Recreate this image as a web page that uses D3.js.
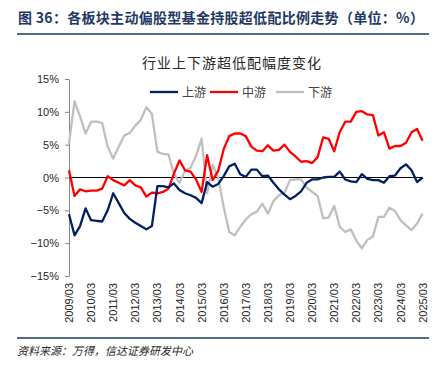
<!DOCTYPE html>
<html>
<head>
<meta charset="utf-8">
<script src="https://cdn.jsdelivr.net/npm/d3@7"></script>
<style>
    body { margin: 0; background: #fff; }
</style>
</head>
<body>
<div id="container"></div>
<script>
const WIDTH = 447;
const HEIGHT = 375;

const PLOT_LEFT = 69;
const PLOT_RIGHT = 422.6;
const PLOT_TOP = 79;
const PLOT_BOTTOM = 276;

// quarter-end dates, 2009/03 .. 2025/03
var quarters = [];
for (var yr = 2009; yr <= 2025; yr++) {
    ["03", "06", "09", "12"].forEach(function (m) {
        if (yr < 2025 || m === "03") quarters.push(yr + "/" + m);
    });
}

var yTicks = [-15, -10, -5, 0, 5, 10, 15];
var seriesNames = ["上游", "中游", "下游"];

var upstream = [-5.6, -8.8, -7.4, -4.7, -6.5, -6.6, -6.7, -5.0, -2.4, -3.9, -5.4, -6.3, -6.9, -7.4, -7.9, -7.4,
    -1.3, -1.3, -1.5, -0.9, -1.9, -2.4, -2.7, -3.1, -3.9, -0.7, -1.4, -1.0, 0.2, 1.7, 2.1, 0.5,
    0.1, 1.2, 1.2, 0.2, 0.3, -0.8, -1.8, -2.6, -3.3, -2.8, -2.1, -0.8, -0.3, -0.3, 0.0, 0.1,
    0.1, 0.9, -0.3, -0.6, -0.7, 0.5, -0.2, -0.4, -0.4, -0.8, 0.2, 0.3, 1.4, 2.0, 1.1, -0.7, 0.0];

var midstream = [1.1, -2.8, -1.8, -2.1, -2.0, -2.0, -1.7, 0.2, -0.4, -0.8, -1.2, -0.4, -1.2, -1.5, -2.9, -2.3,
    -2.4, -2.2, -1.7, 0.6, 2.6, 1.1, 0.9, -0.3, -2.2, 3.4, -0.4, 1.0, 4.3, 6.3, 6.7, 6.7,
    6.3, 4.7, 4.1, 4.0, 4.9, 4.1, 4.2, 5.0, 3.9, 3.2, 2.4, 2.5, 2.2, 3.1, 6.1, 5.9,
    4.0, 6.9, 8.5, 8.5, 10.0, 10.1, 9.6, 9.5, 6.4, 6.9, 4.4, 4.8, 4.8, 5.3, 6.9, 7.4, 5.6];

var downstream = [5.2, 11.6, 9.3, 6.7, 8.5, 8.5, 8.3, 4.7, 2.9, 4.7, 6.4, 6.8, 7.9, 8.8, 10.7, 9.7,
    3.9, 3.6, 3.5, 0.5, -0.8, 1.0, 1.5, 3.3, 5.9, -2.4, 1.9, 0.0, -4.5, -8.3, -8.8, -7.5,
    -6.4, -5.6, -5.2, -4.0, -5.5, -3.6, -2.7, -2.3, -0.4, -0.3, -0.3, -1.5, -2.2, -2.8, -6.2, -6.1,
    -4.3, -7.5, -8.3, -7.9, -9.6, -10.8, -9.5, -9.0, -6.0, -6.0, -4.6, -5.1, -6.5, -7.3, -8.0, -7.0, -5.5];

var colors = ["#002060", "#ff0000", "#bfbfbf"];

var translate = function (x, y) {
    return "translate(" + x + "," + y + ")";
};

var createChart = function () {
    var svg = d3.select("#container")
        .append("svg")
        .attr("width", WIDTH)
        .attr("height", HEIGHT)
        .style("font-family", "'Liberation Sans', Arial, sans-serif");

    var cjk = "'Noto Sans CJK SC', sans-serif";

    // report header
    svg.append("text")
        .attr("x", 18).attr("y", 23)
        .style("font-family", cjk)
        .style("font-size", "14px")
        .style("font-weight", "bold")
        .style("letter-spacing", "0.3px")
        .attr("fill", "#1f3864")
        .text("图 36：各板块主动偏股型基金持股超低配比例走势（单位：%）");

    svg.append("line")
        .attr("x1", 17).attr("x2", 429)
        .attr("y1", 34).attr("y2", 34)
        .attr("stroke", "#1f3864").attr("stroke-width", 1.5);

    svg.append("text")
        .attr("x", 232).attr("y", 68)
        .attr("text-anchor", "middle")
        .style("font-family", cjk)
        .style("font-size", "14px")
        .style("letter-spacing", "1px")
        .attr("fill", "#262626")
        .text("行业上下游超低配幅度变化");

    var xScale = d3.scalePoint().domain(quarters).range([PLOT_LEFT, PLOT_RIGHT]);
    var yScale = d3.scaleLinear().domain([-15, 15]).range([PLOT_BOTTOM, PLOT_TOP]);

    var yAxis = d3.axisLeft(yScale)
        .tickValues(yTicks)
        .tickSize(4)
        .tickPadding(6)
        .tickSizeOuter(0)
        .tickFormat(function (v) { return (v < 0 ? "−" : "") + Math.abs(v) + "%"; });

    var gy = svg.append("g")
        .attr("transform", translate(PLOT_LEFT, 0))
        .call(yAxis);
    gy.select(".domain").attr("stroke", "#868686");
    gy.selectAll(".tick line").attr("stroke", "#868686");
    gy.selectAll(".tick text")
        .style("font-size", "11px")
        .attr("fill", "#262626");

    // zero line
    svg.append("line")
        .attr("x1", PLOT_LEFT).attr("x2", PLOT_RIGHT)
        .attr("y1", yScale(0)).attr("y2", yScale(0))
        .attr("stroke", "#000").attr("stroke-width", 1);

    // year labels, rotated
    var yearTicks = quarters.filter(function (q) { return q.slice(5) === "03"; });
    svg.selectAll(".xlab").data(yearTicks)
        .enter()
        .append("text")
        .attr("class", "xlab")
        .attr("transform", function (d) { return translate(xScale(d) + 4, 283) + " rotate(-90)"; })
        .attr("text-anchor", "end")
        .style("font-size", "11px")
        .attr("fill", "#262626")
        .text(function (d) { return d; });

    var allSeries = [upstream, midstream, downstream];
    var line = d3.line()
        .x(function (d, i) { return xScale(quarters[i]); })
        .y(function (d) { return yScale(d); });

    // draw grey first, then red, then navy on top
    [2, 1, 0].forEach(function (k) {
        svg.append("path")
            .attr("d", line(allSeries[k]))
            .attr("fill", "none")
            .attr("stroke", colors[k])
            .attr("stroke-width", 2.3)
            .attr("stroke-linejoin", "round");
    });

    // legend
    var legendX = [150, 210, 276];
    var lg = svg.selectAll(".leg").data(seriesNames)
        .enter()
        .append("g")
        .attr("transform", function (d, i) { return translate(legendX[i], 92); });
    lg.append("line")
        .attr("x1", 0).attr("x2", 28)
        .attr("stroke", function (d, i) { return colors[i]; })
        .attr("stroke-width", 2.3);
    lg.append("text")
        .attr("x", 32).attr("y", 4.5)
        .style("font-family", cjk)
        .style("font-size", "12px")
        .attr("fill", "#404040")
        .text(function (d) { return d; });

    // footer
    svg.append("line")
        .attr("x1", 17).attr("x2", 429)
        .attr("y1", 338).attr("y2", 338)
        .attr("stroke", "#1f3864").attr("stroke-width", 1.5);

    svg.append("text")
        .attr("x", 17).attr("y", 355)
        .style("font-family", cjk)
        .style("font-size", "11px")
        .style("font-style", "italic")
        .attr("fill", "#262626")
        .text("资料来源：万得，信达证券研发中心");
};

window.onload = createChart;
</script>
</body>
</html>
